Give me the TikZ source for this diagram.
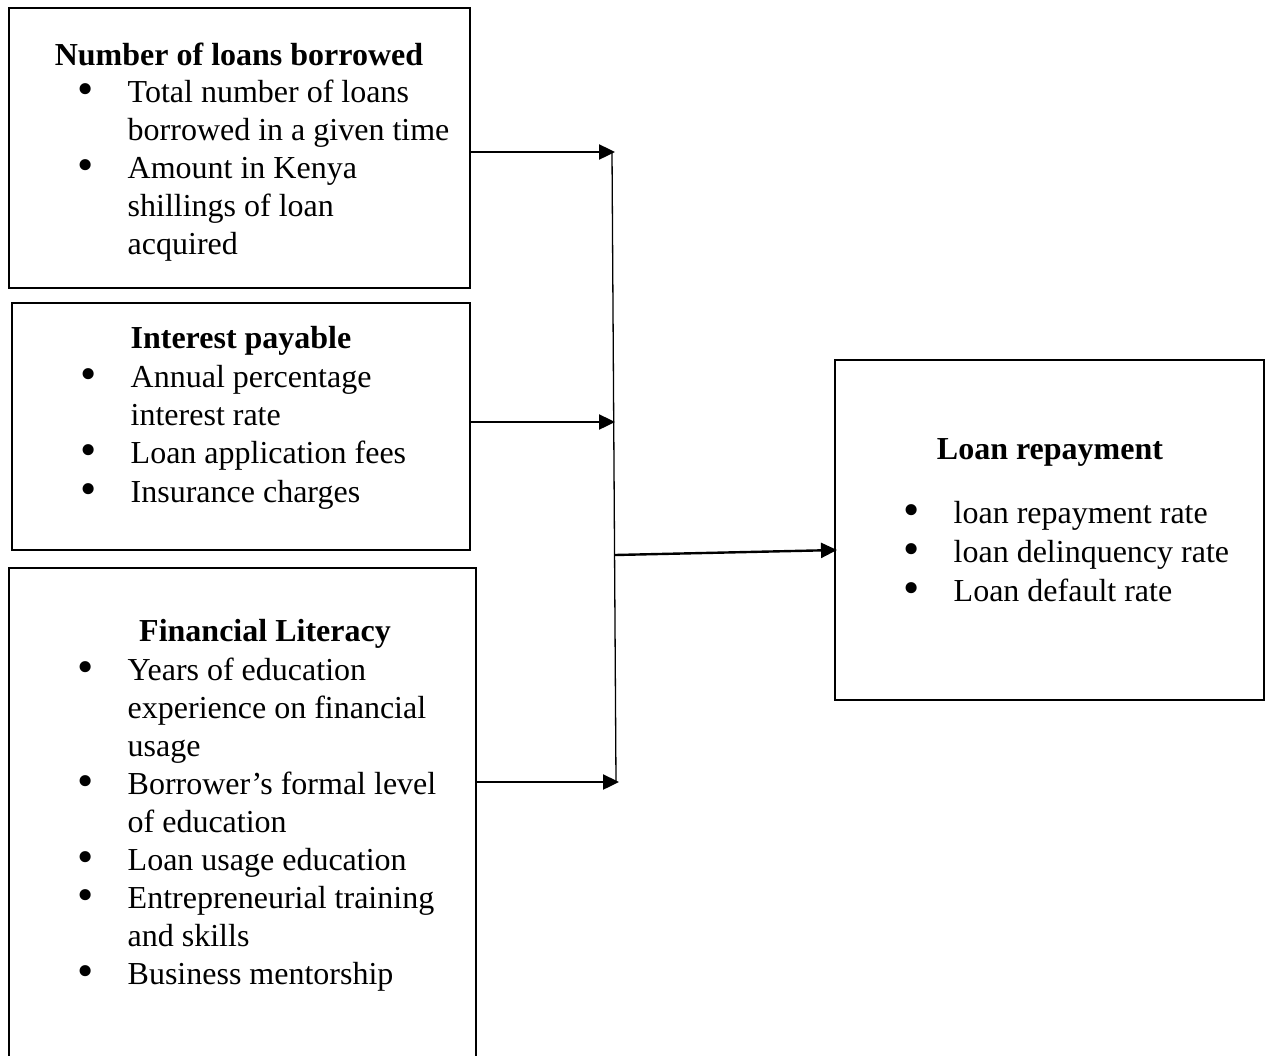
\documentclass[tikz,border=0pt]{standalone}
\usepackage{fontspec}
\setmainfont{Liberation Serif}
\usetikzlibrary{arrows.meta}
\newcommand{\bul}{\makebox[48pt][l]{\hspace*{-2.3pt}\smash{\raisebox{-2pt}{\scalebox{1.45}{•}}}}}
\newcommand{\nob}{\hspace*{48pt}}
\tikzset{
  box/.style={draw, line width=2.4pt, inner sep=0pt, outer sep=0pt},
  ttl/.style={anchor=base, inner sep=0pt, font=\fontsize{32}{38}\selectfont\bfseries},
  lst/.style={anchor=base west, inner sep=0pt, font=\fontsize{32}{38}\selectfont},
  arr/.style={line width=2.4pt, -{Triangle[length=16pt,width=15pt]}},
  vline/.style={line width=1.3pt},
}
\begin{document}
\begin{tikzpicture}[x=1pt,y=-1pt]
\clip (0,0) rectangle (1271,1055);
\fill[white] (0,0) rectangle (1271,1055);
% boxes
\node[box, minimum width=461pt, minimum height=280pt] (b1) at (239.5,148) {};
\node[box, minimum width=458pt, minimum height=247pt] (b2) at (241,426.5) {};
\node[box, minimum width=467pt, minimum height=512pt] (b3) at (242.5,824) {};
\node[box, minimum width=429pt, minimum height=340pt] (b4) at (1049.5,530) {};
% titles
\node[ttl] (t1) at (239,65) {Number of loans borrowed};
\node[ttl] (t2) at (241,348) {Interest payable};
\node[ttl] (t3) at (265,641) {Financial Literacy};
\node[ttl] (t4) at (1050,459) {Loan repayment};
% lists
\node[lst] (l1) at (79.5,102) {\begin{tabular}[t]{@{}l@{}}
\bul Total number of loans\\
\nob borrowed in a given time\\
\bul Amount in Kenya\\
\nob shillings of loan\\
\nob acquired
\end{tabular}};
\node[lst] (l2) at (82.5,387) {\begin{tabular}[t]{@{}l@{}}
\bul Annual percentage\\
\nob interest rate\\[0.5pt]
\bul Loan application fees\\[0.5pt]
\bul Insurance charges
\end{tabular}};
\node[lst] (l3) at (79.5,680) {\begin{tabular}[t]{@{}l@{}}
\bul Years of education\\
\nob experience on financial\\
\nob usage\\
\bul Borrower’s formal level\\
\nob of education\\
\bul Loan usage education\\
\bul Entrepreneurial training\\
\nob and skills\\
\bul Business mentorship
\end{tabular}};
\node[lst] (l4) at (905.5,523) {\begin{tabular}[t]{@{}l@{}}
\bul loan repayment rate\\[1pt]
\bul loan delinquency rate\\[1pt]
\bul Loan default rate
\end{tabular}};
% junction coordinates
\coordinate (a1) at (615,152);
\coordinate (a2) at (615,422);
\coordinate (a3) at (619,782);
\coordinate (v1) at (612,152);
\coordinate (v3) at (616,782);
\coordinate (m0) at (615,555);
\coordinate (m1) at (837,550);
% connectors
\draw[vline] (v1) -- (v3);
\draw[arr] (b1.east |- a1) -- (a1);
\draw[arr] (b2.east |- a2) -- (a2);
\draw[arr] (b3.east |- a3) -- (a3);
\draw[arr] (m0) -- (m1);
\end{tikzpicture}
\end{document}
